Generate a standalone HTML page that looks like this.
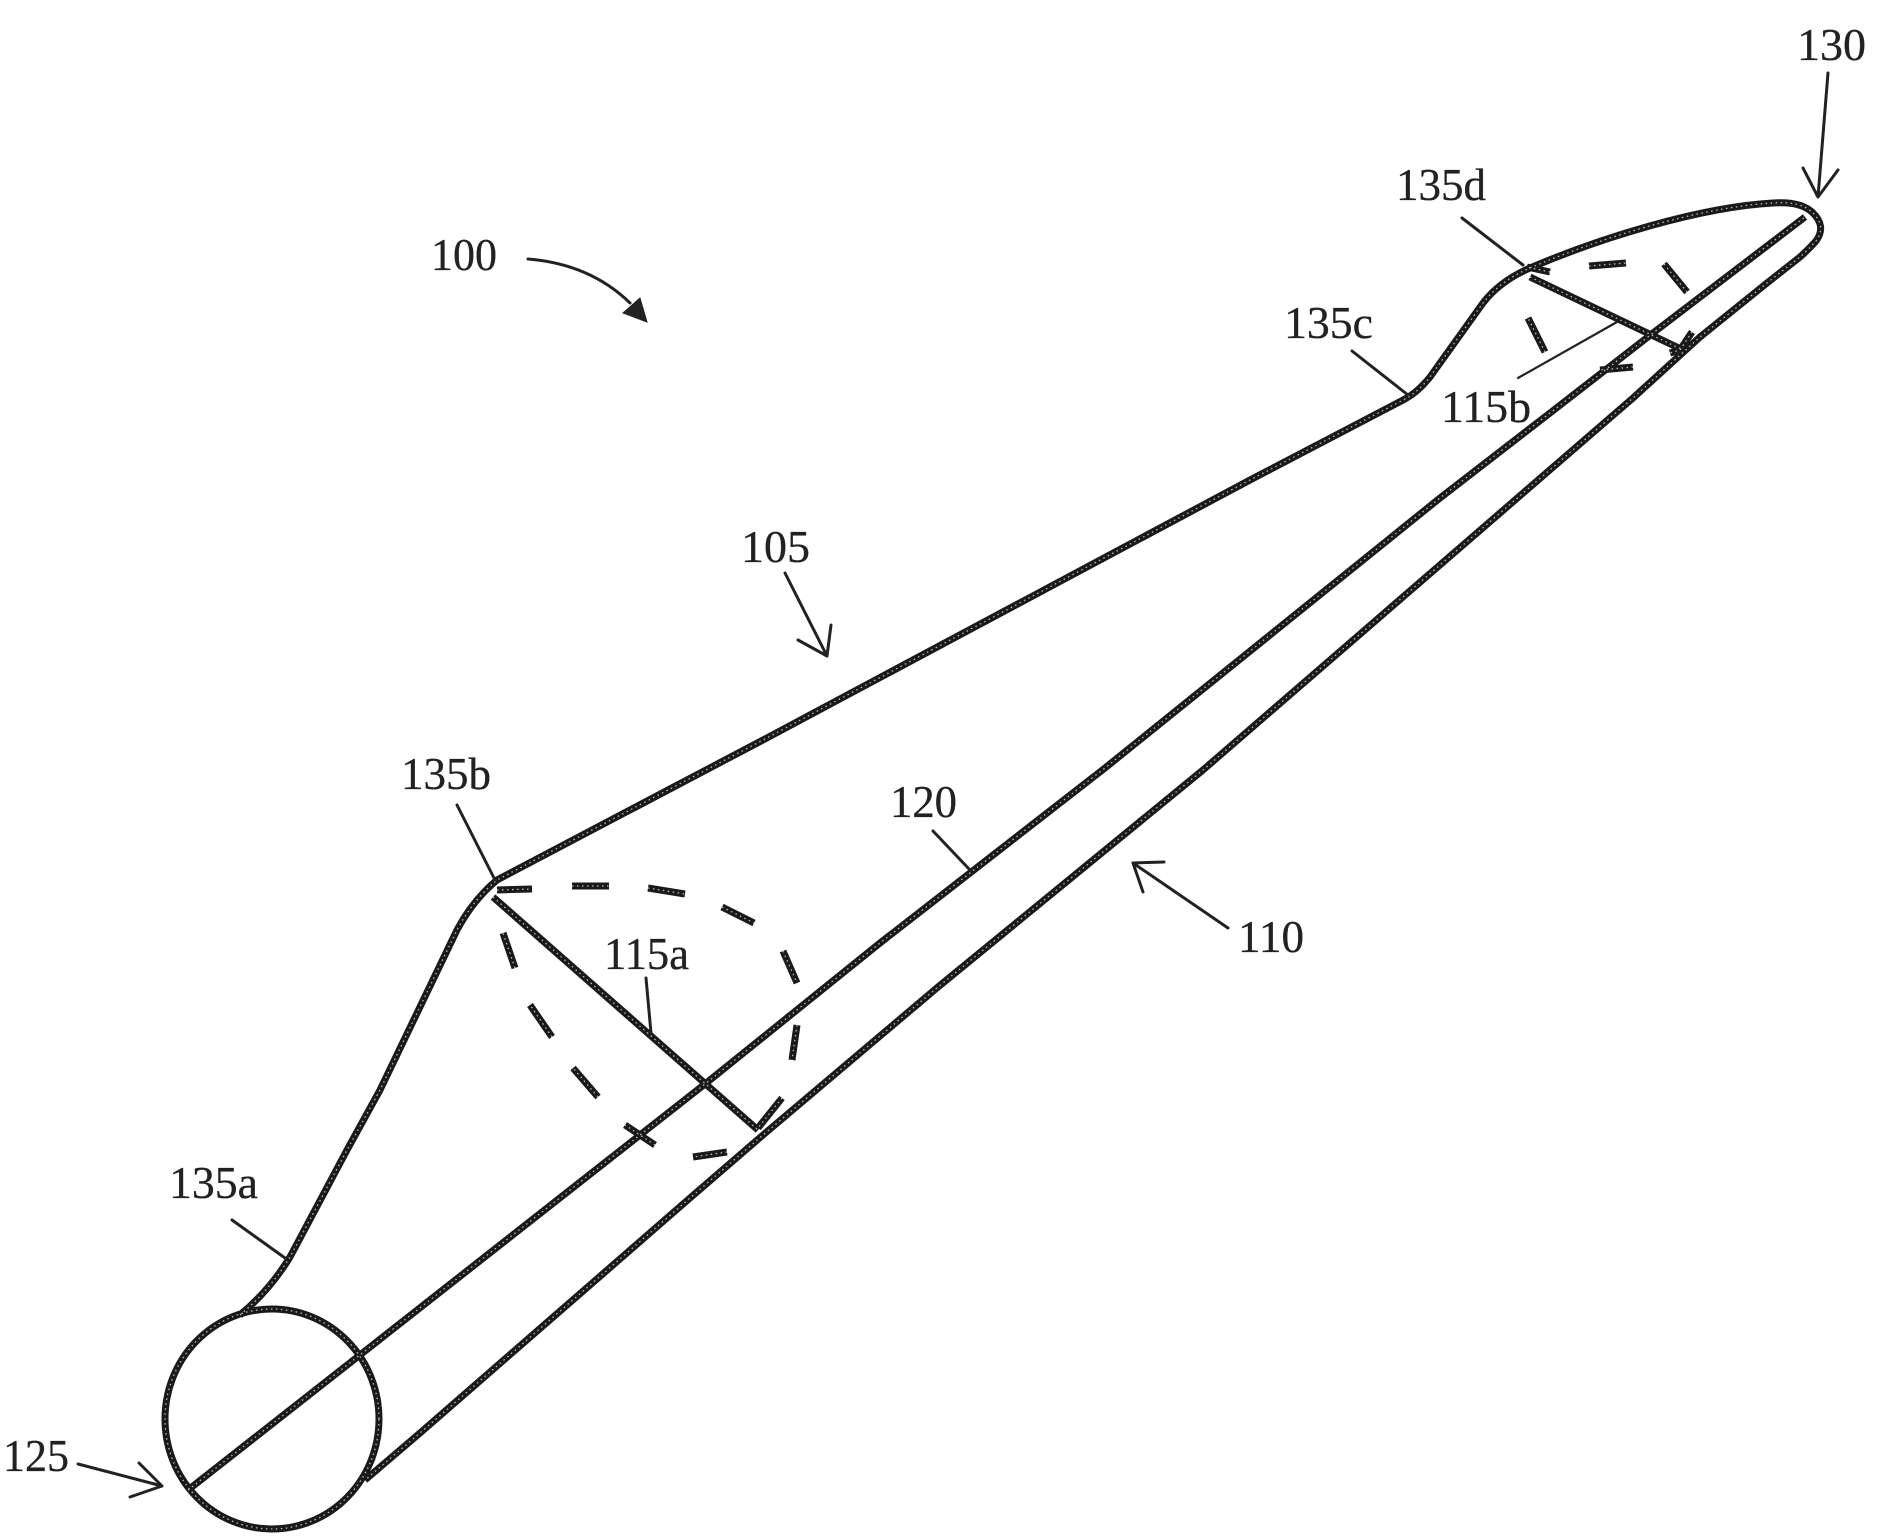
<!DOCTYPE html>
<html><head><meta charset="utf-8"><style>
html,body{margin:0;padding:0;background:#fff}
svg{display:block}
text{font-family:"Liberation Serif",serif;font-size:46px;fill:#222;stroke:#222;stroke-width:.3}
</style></head><body>
<svg width="1879" height="1540" viewBox="0 0 1879 1540" xmlns="http://www.w3.org/2000/svg">
<defs>
<g id="m" fill="none" stroke-linecap="butt" stroke-linejoin="round">
<ellipse cx="272" cy="1419" rx="107" ry="110"/>
<path d="M240,1315 Q270,1290 290,1257 L347,1150 L380,1090 L457,930 Q473,900 497,880 L763,740 L1250,480 L1405,399 Q1418,392 1430,377 L1483,303 Q1500,281 1530,268 C1600,238 1700,207 1773,203 Q1800,201 1812,212 Q1827,226 1816,241 Q1808,250 1800,257 L1767,283 L1700,337 L1633,398 L1203,770 L938,987 L763,1135 L690,1198 L420,1433 L365,1480"/>
<path d="M188,1490 L705,1084 L880,943 L1105,768 L1440,498 L1550,413 L1653,333 L1805,217"/>
<path d="M493,897 L758,1130"/>
<path d="M1530,277 L1683,350"/>
<path d="M497,890 L532,889M572,886 L609,886M648,888 L685,894M722,907 L754,923M783,951 L797,983M797,1025 L792,1060M782,1098 L758,1128M727,1152 L693,1157M655,1145 L625,1125M598,1097 L573,1068M552,1037 L530,1005M515,968 L503,933"/>
<path d="M1550,272 L1527,267M1589,266 L1626,263M1664,264 L1687,292M1692,332 L1680,350L1670,353M1633,367 L1600,370M1545,352 L1528,318"/>
</g>
</defs>
<use href="#m" stroke="#1a1a1a" stroke-width="7"/>
<use href="#m" stroke="#bbb" stroke-width="1.3" stroke-dasharray="1.5 3.5"/>

<g fill="none" stroke="#222" stroke-width="3" stroke-linecap="round" stroke-linejoin="round">
<path d="M1828,73 L1818,197 M1803,168 L1818,197 L1838,170"/>
<path d="M1462,218 L1523,265"/>
<path d="M1352,351 L1408,395"/>
<path d="M1518,378 L1617,322" stroke-width="2.2"/>
<path d="M457,805 L495,880"/>
<path d="M646,978 L651,1033"/>
<path d="M232,1220 L285,1258"/>
<path d="M78,1464 L162,1486 M139,1463 L162,1486 L130,1497"/>
<path d="M785,573 L827,656 M798,640 L827,656 L831,625"/>
<path d="M933,831 L970,870"/>
<path d="M1228,928 L1133,863 M1164,862 L1133,863 L1143,892"/>
<path d="M528,259 Q590,264 630,303"/>
</g>
<path d="M647,322 L640,298 L623,313 Z" fill="#222" stroke="#222" stroke-width="1"/>

<text x="431" y="270" textLength="66" lengthAdjust="spacingAndGlyphs">100</text>
<text x="741" y="562" textLength="69" lengthAdjust="spacingAndGlyphs">105</text>
<text x="1238" y="952" textLength="66" lengthAdjust="spacingAndGlyphs">110</text>
<text x="890" y="817" textLength="67" lengthAdjust="spacingAndGlyphs">120</text>
<text x="604" y="969" textLength="85" lengthAdjust="spacingAndGlyphs">115a</text>
<text x="1441" y="422" textLength="90" lengthAdjust="spacingAndGlyphs">115b</text>
<text x="3" y="1471" textLength="66" lengthAdjust="spacingAndGlyphs">125</text>
<text x="1797" y="60" textLength="69" lengthAdjust="spacingAndGlyphs">130</text>
<text x="169" y="1198" textLength="89" lengthAdjust="spacingAndGlyphs">135a</text>
<text x="401" y="789" textLength="90" lengthAdjust="spacingAndGlyphs">135b</text>
<text x="1284" y="338" textLength="89" lengthAdjust="spacingAndGlyphs">135c</text>
<text x="1396" y="200" textLength="90" lengthAdjust="spacingAndGlyphs">135d</text>
</svg>
</body></html>
